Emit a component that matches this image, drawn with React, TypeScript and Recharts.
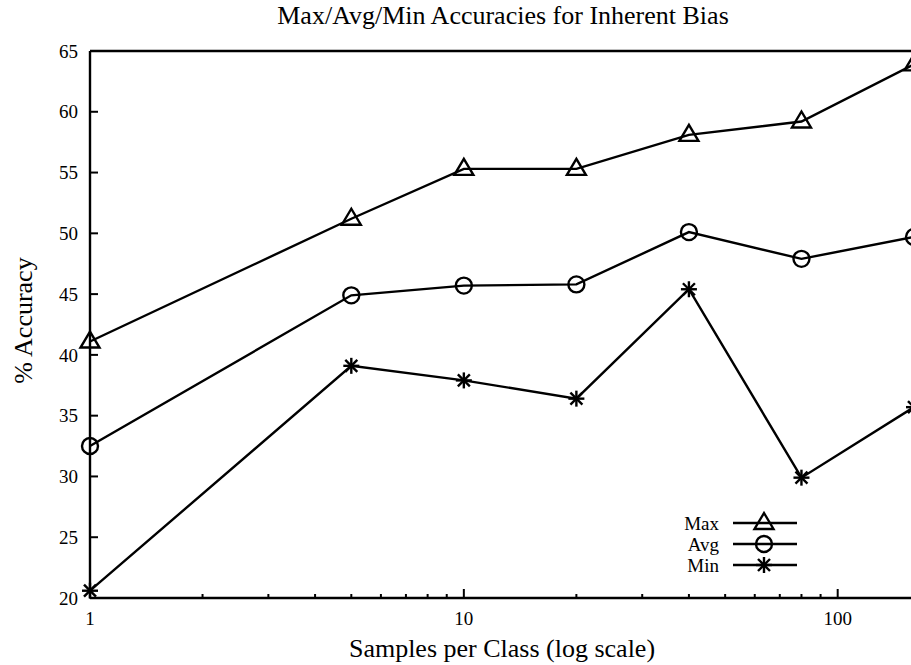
import React from 'react';
import {
    LineChart,
    Line,
    XAxis,
    YAxis,
    Legend,
    ReferenceLine
} from 'recharts';

// samples per class (x, log scale) and accuracies
const samples = [1, 5, 10, 20, 40, 80, 160];
const maxAcc = [41.1, 51.2, 55.3, 55.3, 58.1, 59.2, 63.9];
const avgAcc = [32.5, 44.9, 45.7, 45.8, 50.1, 47.9, 49.7];
const minAcc = [20.6, 39.1, 37.9, 36.4, 45.4, 29.9, 35.7];

const seriesNames = ['Max', 'Avg', 'Min'];
const yTicks = [20, 25, 30, 35, 40, 45, 50, 55, 60, 65];
const xTicks = [1, 2, 3, 4, 5, 6, 7, 8, 9, 10, 20, 30, 40, 50, 60, 70, 80, 90, 100];
const xLabeled = [1, 10, 100];

const data = samples.map((x, i) => ({
    x,
    max: maxAcc[i],
    avg: avgAcc[i],
    min: minAcc[i],
}));

const FONT = '"Liberation Serif", "Times New Roman", serif';
const INK = '#000';
const LW = 2.4;

const triangle = (cx: number, cy: number, key?: any) => (
    <polygon key={key} points={`${cx},${cy - 10} ${cx - 9.5},${cy + 6} ${cx + 9.5},${cy + 6}`}
        fill="none" stroke={INK} strokeWidth={LW} />
);
const circle = (cx: number, cy: number, key?: any) => (
    <circle key={key} cx={cx} cy={cy} r={8} fill="none" stroke={INK} strokeWidth={LW} />
);
const star = (cx: number, cy: number, key?: any) => (
    <g key={key} stroke={INK} strokeWidth={LW}>
        <line x1={cx - 8} x2={cx + 8} y1={cy} y2={cy} />
        <line x1={cx} x2={cx} y1={cy - 8} y2={cy + 8} />
        <line x1={cx - 6} x2={cx + 6} y1={cy - 6} y2={cy + 6} />
        <line x1={cx - 6} x2={cx + 6} y1={cy + 6} y2={cy - 6} />
    </g>
);
const markers = [triangle, circle, star];

const XTick = (props: any) => {
    const { x, y, payload } = props;
    const major = xLabeled.includes(payload.value);
    return (
        <g>
            <line x1={x} x2={x} y1={y} y2={y - (major ? 9 : 4)} stroke={INK} strokeWidth={2} />
            {major && (
                <text x={x} y={y + 27} textAnchor="middle" fontSize={19} fontFamily={FONT} fill={INK}>
                    {payload.value}
                </text>
            )}
        </g>
    );
};

const YTick = (props: any) => {
    const { x, y, payload } = props;
    return (
        <g>
            <line x1={x} x2={x + 8} y1={y} y2={y} stroke={INK} strokeWidth={2} />
            <text x={x - 12} y={y} dy="0.35em" textAnchor="end" fontSize={19} fontFamily={FONT} fill={INK}>
                {payload.value}
            </text>
        </g>
    );
};

const XLabel = (props: any) => {
    const vb = props.viewBox;
    return (
        <text x={vb.x + vb.width / 2} y={vb.y + 59} textAnchor="middle" fontSize={26} fontFamily={FONT} fill={INK}>
            Samples per Class (log scale)
        </text>
    );
};

const YLabel = (props: any) => {
    const vb = props.viewBox;
    const cx = 32;
    const cy = vb.y + vb.height / 2 - 4;
    return (
        <text x={cx} y={cy} transform={`rotate(-90, ${cx}, ${cy})`} textAnchor="middle"
            fontSize={26} fontFamily={FONT} fill={INK}>
            % Accuracy
        </text>
    );
};

const renderLegend = () => (
    <svg width={140} height={70} style={{ display: 'block' }}>
        {seriesNames.map((name, i) => {
            const y = 13 + i * 21;
            return (
                <g key={name}>
                    <text x={47} y={y} dy="0.35em" textAnchor="end" fontSize={19} fontFamily={FONT} fill={INK}>
                        {name}
                    </text>
                    <line x1={61} x2={125} y1={y} y2={y} stroke={INK} strokeWidth={LW} />
                    {markers[i](92, y)}
                </g>
            );
        })}
    </svg>
);

const dotFor = (i: number) => (p: any) => markers[i](p.cx, p.cy, `d${i}-${p.index}`);

export default function App() {
    return (
        <div style={{
            width: 911, height: 665, overflow: 'hidden',
            position: 'relative', background: '#fff', fontFamily: FONT
        }}>
            <style>{`
        html, body { margin: 0; padding: 0; overflow: hidden; }
      `}</style>
            <div style={{
                position: 'absolute', top: 3, left: 503, transform: 'translateX(-50%)',
                whiteSpace: 'nowrap', fontSize: 26, lineHeight: '26px', color: INK
            }}>
                Max/Avg/Min Accuracies for Inherent Bias
            </div>
            <LineChart width={930} height={665} data={data}
                margin={{ top: 51, right: 16, bottom: 0, left: 0 }}>
                <XAxis dataKey="x" type="number" scale="log" domain={[1, 160]} ticks={xTicks}
                    interval={0} height={67} tickSize={0} tickMargin={0} tickLine={false}
                    axisLine={{ stroke: INK, strokeWidth: 2.4 }} tick={<XTick />}
                    label={<XLabel />} />
                <YAxis type="number" domain={[20, 65]} ticks={yTicks} interval={0} width={90}
                    tickSize={0} tickMargin={0} tickLine={false}
                    axisLine={{ stroke: INK, strokeWidth: 2.4 }} tick={<YTick />}
                    label={<YLabel />} />
                <ReferenceLine y={65} stroke={INK} strokeWidth={2.4} />
                <Legend content={renderLegend} layout="vertical" align="center" verticalAlign="middle"
                    wrapperStyle={{ left: 672, top: 510, width: 140, height: 70 }} />
                <Line dataKey="max" name="Max" stroke={INK} strokeWidth={LW} dot={dotFor(0)}
                    activeDot={false} isAnimationActive={false} />
                <Line dataKey="avg" name="Avg" stroke={INK} strokeWidth={LW} dot={dotFor(1)}
                    activeDot={false} isAnimationActive={false} />
                <Line dataKey="min" name="Min" stroke={INK} strokeWidth={LW} dot={dotFor(2)}
                    activeDot={false} isAnimationActive={false} />
            </LineChart>
        </div>
    );
}
